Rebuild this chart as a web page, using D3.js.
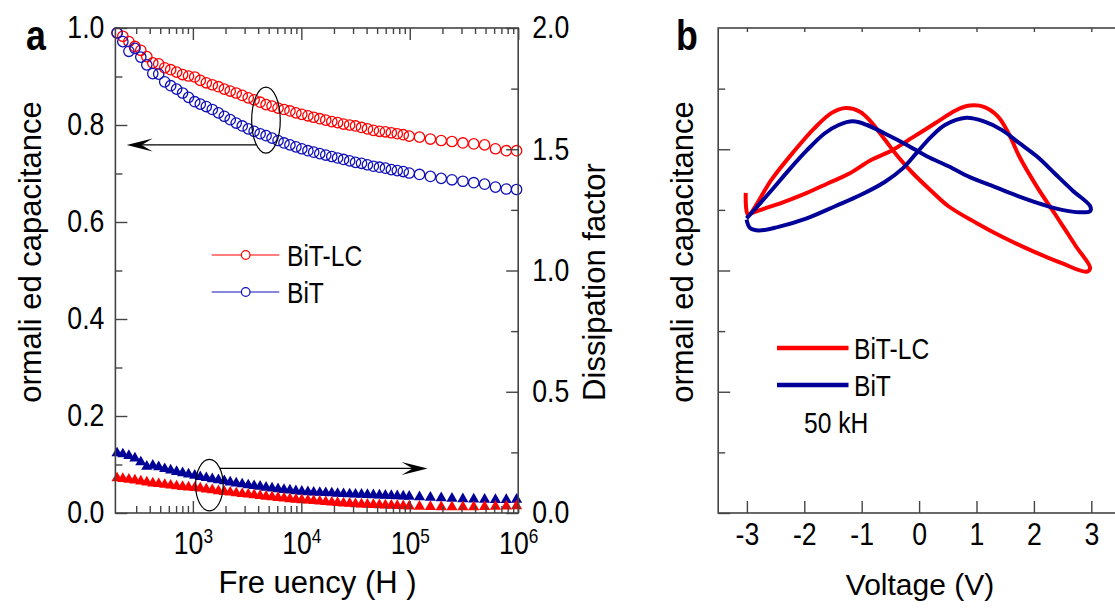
<!DOCTYPE html>
<html>
<head>
<meta charset="utf-8">
<script src="https://cdn.jsdelivr.net/npm/d3@7"></script>
<style>
  html, body { margin: 0; padding: 0; background: #fff; }
  svg { display: block; }
  text { font-family: "Liberation Sans", Arial, Helvetica, sans-serif; fill: #000; }
</style>
</head>
<body>
<svg id="chart" width="1115" height="612"></svg>
<script>
// ---- Panel a: frequency sweep (Hz) ----
const freqHz = [200, 226, 257, 292, 331, 376, 427, 484, 550, 624, 708, 804, 912,
  1040, 1170, 1330, 1510, 1720, 1950, 2210, 2510, 2850, 3240, 3670, 4170, 4730,
  5370, 6100, 6920, 7850, 8910, 10100, 11500, 13000, 14800, 16800, 19100, 21600,
  24500, 27900, 31600, 35900, 40700, 46200, 52500, 59600, 67600, 76700, 87100,
  98900, 123000, 155000, 195000, 245000, 309000, 389000, 490000, 617000, 776000, 966000];

// normalized capacitance (left axis)
const capBiTLC = [0.990, 0.983, 0.972, 0.962, 0.954, 0.941, 0.928, 0.926, 0.918, 0.914,
  0.909, 0.904, 0.901, 0.899, 0.892, 0.887, 0.883, 0.879, 0.874, 0.870, 0.866, 0.861,
  0.856, 0.852, 0.847, 0.842, 0.839, 0.835, 0.832, 0.829, 0.825, 0.822, 0.819, 0.816,
  0.813, 0.810, 0.807, 0.805, 0.802, 0.800, 0.798, 0.795, 0.792, 0.789, 0.787, 0.786,
  0.784, 0.782, 0.780, 0.777, 0.775, 0.771, 0.768, 0.766, 0.763, 0.761, 0.759, 0.751,
  0.747, 0.747];
const capBiT = [0.990, 0.972, 0.952, 0.958, 0.940, 0.924, 0.906, 0.905, 0.889, 0.881,
  0.874, 0.866, 0.857, 0.848, 0.843, 0.838, 0.832, 0.825, 0.818, 0.811, 0.804, 0.798,
  0.792, 0.787, 0.782, 0.778, 0.773, 0.768, 0.763, 0.759, 0.755, 0.751, 0.747, 0.744,
  0.741, 0.738, 0.735, 0.732, 0.729, 0.726, 0.723, 0.721, 0.718, 0.715, 0.713, 0.711,
  0.708, 0.706, 0.704, 0.701, 0.698, 0.694, 0.690, 0.687, 0.684, 0.681, 0.678, 0.672,
  0.668, 0.667];

// dissipation factor (right axis)
const dfBiTLC = [0.144, 0.141, 0.138, 0.135, 0.131, 0.127, 0.123, 0.120, 0.117, 0.114,
  0.111, 0.108, 0.106, 0.104, 0.102, 0.098, 0.095, 0.091, 0.088, 0.085, 0.082, 0.079,
  0.077, 0.074, 0.071, 0.068, 0.066, 0.063, 0.061, 0.058, 0.056, 0.054, 0.052, 0.050,
  0.048, 0.046, 0.044, 0.042, 0.040, 0.039, 0.037, 0.036, 0.035, 0.034, 0.033, 0.032,
  0.031, 0.030, 0.029, 0.028, 0.027, 0.026, 0.025, 0.025, 0.025, 0.025, 0.026, 0.027,
  0.028, 0.029];
const dfBiT = [0.247, 0.243, 0.236, 0.226, 0.210, 0.192, 0.196, 0.190, 0.182, 0.176,
  0.170, 0.165, 0.160, 0.155, 0.149, 0.145, 0.140, 0.136, 0.132, 0.127, 0.123, 0.119,
  0.115, 0.112, 0.109, 0.105, 0.102, 0.099, 0.096, 0.094, 0.091, 0.089, 0.087, 0.085,
  0.084, 0.083, 0.082, 0.080, 0.079, 0.078, 0.077, 0.076, 0.075, 0.074, 0.073, 0.072,
  0.071, 0.070, 0.069, 0.068, 0.066, 0.064, 0.062, 0.060, 0.058, 0.057, 0.056, 0.055,
  0.055, 0.056];

const capTicks = [0, 0.2, 0.4, 0.6, 0.8, 1.0];
const capMinorTicks = [0.1, 0.3, 0.5, 0.7, 0.9];
const dfTicks = [0, 0.5, 1.0, 1.5, 2.0];
const dfMinorTicks = [0.25, 0.75, 1.25, 1.75];
const freqDecades = [1e3, 1e4, 1e5, 1e6];
const freqMinor = [300, 400, 500, 600, 700, 800, 900,
  2000, 3000, 4000, 5000, 6000, 7000, 8000, 9000,
  20000, 30000, 40000, 50000, 60000, 70000, 80000, 90000,
  200000, 300000, 400000, 500000, 600000, 700000, 800000, 900000];

// ---- Panel b: C-V loops at 50 kHz ----
const cvVoltBiTLC = [-3.02, -2.98, -2.571, -2.202, -1.831, -1.523, -1.277, -1.030, -0.845,
  -0.598, -0.352, -0.105, 0.204, 0.512, 1.005, 1.437, 1.930, 2.486, 2.917, 2.979, 2.732,
  2.362, 2.054, 1.746, 1.561, 1.375, 1.129, 0.882, 0.636, 0.265, -0.105, -0.476, -0.845,
  -1.214, -1.585, -1.955, -2.326, -2.695, -2.941];
const cvCapBiTLC = [0.864, 0.846, 0.875, 0.897, 0.917, 0.930, 0.934, 0.931, 0.923,
  0.908, 0.893, 0.880, 0.866, 0.853, 0.839, 0.828, 0.817, 0.806, 0.799, 0.802, 0.820,
  0.847, 0.869, 0.894, 0.913, 0.927, 0.935, 0.936, 0.932, 0.921, 0.910, 0.899, 0.891,
  0.880, 0.872, 0.864, 0.857, 0.851, 0.847];
const cvVoltBiT = [-3.006, -2.944, -2.790, -2.450, -1.957, -1.463, -1.031, -0.599, -0.290,
  -0.043, 0.204, 0.450, 0.821, 1.130, 1.438, 1.747, 2.056, 2.364, 2.673, 2.981, 2.981,
  2.796, 2.488, 2.179, 1.747, 1.315, 0.883, 0.512, 0.142, -0.228, -0.599, -0.907, -1.154,
  -1.401, -1.648, -1.957, -2.265, -2.574, -2.852, -3.006];
const cvCapBiT = [0.842, 0.835, 0.833, 0.836, 0.843, 0.853, 0.862, 0.873, 0.884,
  0.897, 0.910, 0.920, 0.926, 0.923, 0.916, 0.905, 0.894, 0.880, 0.866, 0.853, 0.849,
  0.848, 0.850, 0.854, 0.861, 0.869, 0.877, 0.886, 0.894, 0.904, 0.913, 0.920, 0.923,
  0.920, 0.913, 0.899, 0.883, 0.866, 0.851, 0.843];
const voltTicks = [-3, -2, -1, 0, 1, 2, 3];
const cvMajorTicks = [0.6, 0.7, 0.8, 0.9];
const cvMinorTicks = [0.65, 0.75, 0.85, 0.95];

const RED = "#ff0000";
const BLUE_CIRCLE = "#1010b8";
const NAVY = "#000099";
const AXIS = "#444";
const TICK_SX = 0.86;   // horizontal squeeze of tick numbers
const LEG_SX = 0.82;    // horizontal squeeze of legend text

const svg = d3.select("#chart");
svg.append("rect").attr("width", 1115).attr("height", 612).attr("fill", "#fff");

// text squeezed horizontally around its anchor point
function sText(parent, x, y, str, size, sx, opts = {}) {
  const g = parent.append("g").attr("transform", `translate(${x},${y}) rotate(${opts.rotate || 0}) scale(${sx},1)`);
  const t = g.append("text").attr("font-size", size).attr("text-anchor", opts.anchor || "start").text(str);
  if (opts.dy) t.attr("dy", opts.dy);
  if (opts.bold) t.attr("font-weight", "bold");
  return t;
}

// tick-only axis (no labels)
function tickAxis(g, axis, values, size) {
  g.call(axis.tickValues(values).tickSizeInner(size).tickSizeOuter(0).tickFormat(""));
  g.select(".domain").remove();
  g.attr("color", AXIS).selectAll("line").attr("stroke-width", 1.4);
}
// labelled axis with inward ticks and squeezed numbers
function labelAxis(g, axis, values, size, pad, fmt) {
  g.call(axis.tickValues(values).tickSizeInner(size).tickSizeOuter(0).tickPadding(pad).tickFormat(fmt));
  g.select(".domain").remove();
  g.attr("color", AXIS).attr("font-family", null).attr("font-size", 31);
  g.selectAll("line").attr("stroke-width", 1.4);
  g.selectAll(".tick text").attr("fill", "#000").each(function () {
    const t = d3.select(this);
    const x = +t.attr("x") || 0;
    t.attr("x", x / TICK_SX).attr("transform", `scale(${TICK_SX},1)`);
  });
}

// ================= Panel a =================
const xA = d3.scaleLog().domain([193, 1e6]).range([115.4, 518.2]);
const yCap = d3.scaleLinear().domain([0, 1]).range([513, 28]);
const yDF = d3.scaleLinear().domain([0, 2]).range([513, 28]);
const [aL, aR] = xA.range();
const [aB, aT] = yCap.range();

const pa = svg.append("g");

// dissipation factor triangles
const tri = d3.symbol().type(d3.symbolTriangle).size(54);
pa.append("g").selectAll("path").data(freqHz.map((f, i) => [f, dfBiT[i]])).join("path")
  .attr("d", tri).attr("transform", d => `translate(${xA(d[0])},${yDF(d[1])})`)
  .attr("fill", NAVY);
pa.append("g").selectAll("path").data(freqHz.map((f, i) => [f, dfBiTLC[i]])).join("path")
  .attr("d", tri).attr("transform", d => `translate(${xA(d[0])},${yDF(d[1])})`)
  .attr("fill", RED);

// capacitance circles
pa.append("g").selectAll("circle").data(freqHz.map((f, i) => [f, capBiTLC[i]])).join("circle")
  .attr("cx", d => xA(d[0])).attr("cy", d => yCap(d[1])).attr("r", 5.2)
  .attr("fill", "none").attr("stroke", RED).attr("stroke-width", 1.3);
pa.append("g").selectAll("circle").data(freqHz.map((f, i) => [f, capBiT[i]])).join("circle")
  .attr("cx", d => xA(d[0])).attr("cy", d => yCap(d[1])).attr("r", 5.2)
  .attr("fill", "none").attr("stroke", BLUE_CIRCLE).attr("stroke-width", 1.3);

// keep triangles from spilling below the bottom axis
pa.append("rect").attr("x", aL - 2).attr("y", aB + 0.8).attr("width", aR - aL + 4).attr("height", 20).attr("fill", "#fff");

// frame
pa.append("rect").attr("x", aL).attr("y", aT).attr("width", aR - aL).attr("height", aB - aT)
  .attr("fill", "none").attr("stroke", AXIS).attr("stroke-width", 1.6);

// left axis
labelAxis(pa.append("g").attr("transform", `translate(${aL},0)`), d3.axisLeft(yCap), capTicks, -12, 11, d3.format(".1f"));
tickAxis(pa.append("g").attr("transform", `translate(${aL},0)`), d3.axisLeft(yCap), capMinorTicks, -7);
// right axis
labelAxis(pa.append("g").attr("transform", `translate(${aR},0)`), d3.axisRight(yDF), dfTicks, -12, 14, d3.format(".1f"));
tickAxis(pa.append("g").attr("transform", `translate(${aR},0)`), d3.axisRight(yDF), dfMinorTicks, -7);
// bottom log axis with 10^n labels
const gxb = pa.append("g").attr("transform", `translate(0,${aB})`);
labelAxis(gxb, d3.axisBottom(xA), freqDecades, -12, 18, () => "");
gxb.selectAll(".tick text").each(function (d) {
  const t = d3.select(this).attr("dy", null).attr("y", 41).attr("text-anchor", "middle");
  t.append("tspan").text("10");
  t.append("tspan").attr("font-size", 20).attr("dy", -11).text(Math.round(Math.log10(d)));
});
tickAxis(pa.append("g").attr("transform", `translate(0,${aB})`), d3.axisBottom(xA), freqMinor, -7);
// top ticks
tickAxis(pa.append("g").attr("transform", `translate(0,${aT})`), d3.axisTop(xA), freqDecades, -12);
tickAxis(pa.append("g").attr("transform", `translate(0,${aT})`), d3.axisTop(xA), freqMinor, -6);

// annotations: ellipse around a curve with an arrow to its axis
function ellipseArrow(cx, cy, rx, ry, ay, tipX) {
  pa.append("ellipse").attr("cx", cx).attr("cy", cy).attr("rx", rx).attr("ry", ry)
    .attr("fill", "none").attr("stroke", "#000").attr("stroke-width", 1.2);
  const dy = ay - cy;
  const off = rx * Math.sqrt(Math.max(0, 1 - (dy * dy) / (ry * ry)));
  const dir = tipX < cx ? -1 : 1;
  const startX = cx + dir * off;
  pa.append("line").attr("x1", startX).attr("y1", ay).attr("x2", tipX - dir * 14).attr("y2", ay)
    .attr("stroke", "#000").attr("stroke-width", 1.2);
  const L = 26, w = 6.5, n = 15;
  pa.append("path")
    .attr("d", `M${tipX},${ay} L${tipX - dir * L},${ay - w} L${tipX - dir * n},${ay} L${tipX - dir * L},${ay + w} Z`)
    .attr("fill", "#000");
}
ellipseArrow(xA(4720), yCap(0.81), 14.3, 33, yCap(0.759), xA(245));
ellipseArrow(xA(1420), yDF(0.115), 13.8, 25.7, yDF(0.184), xA(146000));

// legend
const legA = [{ name: "BiT-LC", color: RED, y: 255 }, { name: "BiT", color: BLUE_CIRCLE, y: 292 }];
legA.forEach(d => {
  pa.append("line").attr("x1", 211.7).attr("x2", 279.3).attr("y1", d.y).attr("y2", d.y)
    .attr("stroke", d.color).attr("stroke-width", 1.2);
  pa.append("circle").attr("cx", 245.7).attr("cy", d.y).attr("r", 4.3)
    .attr("fill", "#fff").attr("stroke", d.color).attr("stroke-width", 1.2);
  sText(pa, 287, d.y, d.name, 30, LEG_SX, { dy: "0.36em" });
});

// titles
sText(pa, 41, 252, "ormali ed capacitance", 31, 1, { rotate: -90, anchor: "middle" });
sText(pa, 605, 282, "Dissipation factor", 31, 1, { rotate: -90, anchor: "middle" });
sText(pa, 317.5, 593, "Fre  uency (H  )", 31, 1, { anchor: "middle" });
sText(pa, 26, 50, "a", 42, 0.85, { bold: true });

// ================= Panel b =================
const xV = d3.scaleLinear().domain([-3.5, 3.5]).range([718.2, 1120]);
const yN = d3.scaleLinear().domain([0.6, 1.0]).range([513, 28]);
const [bL, bR] = xV.range();
const [bB, bT] = yN.range();
const pb = svg.append("g");

const lineV = d3.line().x(d => xV(d[0])).y(d => yN(d[1])).curve(d3.curveCatmullRom.alpha(0.5));
pb.append("path").datum(cvVoltBiTLC.map((v, i) => [v, cvCapBiTLC[i]])).attr("d", lineV)
  .attr("fill", "none").attr("stroke", RED).attr("stroke-width", 4).attr("stroke-linejoin", "round");
pb.append("path").datum(cvVoltBiT.map((v, i) => [v, cvCapBiT[i]])).attr("d", lineV)
  .attr("fill", "none").attr("stroke", NAVY).attr("stroke-width", 4).attr("stroke-linejoin", "round");

pb.append("rect").attr("x", bL).attr("y", bT).attr("width", bR - bL).attr("height", bB - bT)
  .attr("fill", "none").attr("stroke", AXIS).attr("stroke-width", 1.6);

tickAxis(pb.append("g").attr("transform", `translate(${bL},0)`), d3.axisLeft(yN), cvMajorTicks, -12);
tickAxis(pb.append("g").attr("transform", `translate(${bL},0)`), d3.axisLeft(yN), cvMinorTicks, -7);
labelAxis(pb.append("g").attr("transform", `translate(0,${bB})`), d3.axisBottom(xV), voltTicks, -12, 10,
  d => d3.format("d")(d).replace("\u2212", "-"));
tickAxis(pb.append("g").attr("transform", `translate(0,${bT})`), d3.axisTop(xV), voltTicks, -4);

// legend
const legB = [{ name: "BiT-LC", color: RED, y: 348 }, { name: "BiT", color: NAVY, y: 385 }];
legB.forEach(d => {
  pb.append("line").attr("x1", 777).attr("x2", 848.5).attr("y1", d.y).attr("y2", d.y)
    .attr("stroke", d.color).attr("stroke-width", 4.5);
  sText(pb, 854, d.y, d.name, 30, LEG_SX, { dy: "0.36em" });
});
sText(pb, 804, 433, "50 kH", 30, LEG_SX);

sText(pb, 692.7, 252, "ormali ed capacitance", 31, 1, { rotate: -90, anchor: "middle" });
sText(pb, 920, 595, "Voltage (V)", 30, 1, { anchor: "middle" });
sText(pb, 676, 50, "b", 42, 0.85, { bold: true });
</script>
</body>
</html>
